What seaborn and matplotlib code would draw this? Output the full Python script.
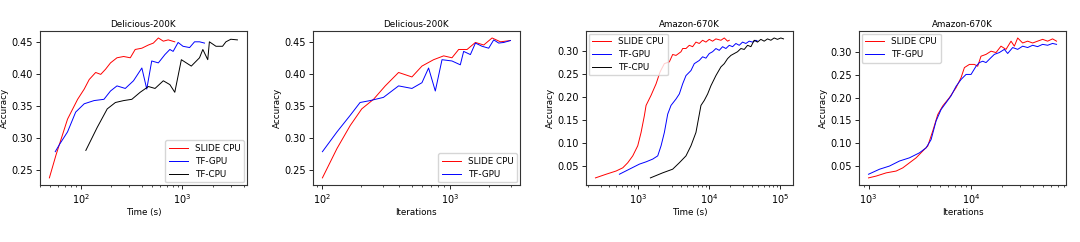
import matplotlib
matplotlib.use("Agg")
import matplotlib.pyplot as plt
import seaborn as sns

# ---------------- data ----------------
# Panel 1: Delicious-200K, accuracy vs time (s)
d_time_slide_x = [49, 57, 74, 93, 108, 121, 140, 157, 175, 196, 227, 264, 307, 343, 399, 463, 518, 580, 649, 725, 842]
d_time_slide_y = [0.237, 0.273, 0.329, 0.360, 0.376, 0.391, 0.402, 0.399, 0.407, 0.417, 0.425, 0.427, 0.425, 0.438, 0.440, 0.445, 0.448, 0.456, 0.451, 0.453, 0.450]
d_time_gpu_x = [56, 62, 74, 89, 108, 135, 169, 196, 227, 274, 330, 399, 446, 499, 580, 673, 753, 811, 908, 1014, 1178, 1318, 1475, 1652]
d_time_gpu_y = [0.278, 0.290, 0.309, 0.340, 0.353, 0.358, 0.360, 0.373, 0.381, 0.377, 0.389, 0.409, 0.376, 0.420, 0.417, 0.430, 0.438, 0.435, 0.449, 0.443, 0.441, 0.450, 0.450, 0.448]
d_time_cpu_x = [112, 145, 182, 219, 264, 318, 384, 463, 538, 649, 753, 842, 977, 1224, 1475, 1590, 1778, 1845, 2142, 2487, 2684, 3000, 3483]
d_time_cpu_y = [0.280, 0.316, 0.345, 0.355, 0.358, 0.360, 0.371, 0.380, 0.377, 0.389, 0.383, 0.371, 0.422, 0.412, 0.425, 0.438, 0.422, 0.450, 0.443, 0.443, 0.450, 0.454, 0.453]

# Panel 2: Delicious-200K, accuracy vs iterations
d_iter_slide_x = [100, 130, 165, 203, 251, 310, 394, 501, 600, 740, 887, 1030, 1162, 1352, 1571, 1825, 2120, 2466, 2952]
d_iter_slide_y = [0.237, 0.283, 0.319, 0.345, 0.360, 0.381, 0.402, 0.395, 0.412, 0.422, 0.428, 0.425, 0.438, 0.438, 0.449, 0.445, 0.456, 0.450, 0.452]
d_iter_gpu_x = [100, 130, 165, 197, 236, 300, 394, 501, 600, 676, 763, 861, 1030, 1197, 1271, 1435, 1571, 1771, 1995, 2184, 2391, 2620, 2952]
d_iter_gpu_y = [0.278, 0.309, 0.335, 0.355, 0.358, 0.363, 0.381, 0.377, 0.386, 0.409, 0.373, 0.422, 0.420, 0.414, 0.435, 0.430, 0.448, 0.443, 0.440, 0.453, 0.448, 0.449, 0.452]

# Panel 3: Amazon-670K, accuracy vs time (s)
a_time_slide_x = [254, 359, 496, 616, 723, 851, 1000, 1114, 1241, 1310, 1540, 1811, 2061, 2370, 2786, 3104, 3458, 4066, 4289, 4776, 5319, 5923, 6597, 7346, 8183, 9114, 10150, 11310, 12600, 14830, 16520, 18400, 19420]
a_time_slide_y = [0.024, 0.032, 0.039, 0.046, 0.057, 0.072, 0.094, 0.123, 0.160, 0.182, 0.204, 0.229, 0.255, 0.273, 0.277, 0.293, 0.291, 0.299, 0.306, 0.306, 0.313, 0.310, 0.320, 0.317, 0.324, 0.320, 0.326, 0.322, 0.327, 0.324, 0.329, 0.322, 0.324]
a_time_gpu_x = [552, 763, 1055, 1310, 1626, 1911, 2130, 2370, 2642, 2940, 3458, 3850, 4289, 4776, 5612, 6250, 7346, 8183, 9114, 10150, 11310, 12600, 14040, 15640, 17420, 19420, 21630, 24090, 26840, 29880, 33290, 37080, 41310, 46030, 48530]
a_time_gpu_y = [0.032, 0.043, 0.054, 0.059, 0.065, 0.072, 0.094, 0.123, 0.163, 0.182, 0.196, 0.207, 0.229, 0.247, 0.258, 0.273, 0.280, 0.288, 0.285, 0.295, 0.299, 0.306, 0.302, 0.310, 0.306, 0.313, 0.310, 0.317, 0.313, 0.320, 0.317, 0.322, 0.320, 0.324, 0.322]
a_time_cpu_x = [1507, 2244, 3104, 3850, 4776, 5612, 6597, 7762, 8650, 9640, 10730, 12600, 14830, 16520, 18400, 20480, 22800, 25400, 28310, 31540, 35150, 39170, 43590, 48530, 54050, 60260, 67140, 74820, 83200, 92700, 103300, 112700]
a_time_cpu_y = [0.024, 0.035, 0.043, 0.057, 0.072, 0.094, 0.123, 0.182, 0.193, 0.207, 0.225, 0.247, 0.266, 0.273, 0.284, 0.291, 0.295, 0.299, 0.306, 0.304, 0.313, 0.310, 0.324, 0.320, 0.326, 0.322, 0.327, 0.324, 0.329, 0.326, 0.329, 0.327]

# Panel 4: Amazon-670K, accuracy vs iterations
a_iter_slide_x = [1000, 1188, 1486, 1859, 2159, 2506, 2912, 3382, 3786, 4234, 4735, 5300, 6148, 7144, 7995, 8614, 9640, 10770, 11610, 12510, 14000, 15670, 17530, 19590, 21930, 24550, 26440, 28510, 31860, 35650, 39890, 44560, 49890, 55850, 62370, 68230]
a_iter_slide_y = [0.024, 0.028, 0.035, 0.039, 0.046, 0.057, 0.068, 0.083, 0.094, 0.127, 0.163, 0.182, 0.200, 0.222, 0.244, 0.266, 0.273, 0.273, 0.269, 0.291, 0.295, 0.302, 0.299, 0.313, 0.306, 0.324, 0.313, 0.331, 0.320, 0.324, 0.320, 0.324, 0.328, 0.324, 0.329, 0.324]
a_iter_gpu_x = [1000, 1280, 1602, 2004, 2506, 3138, 3647, 4077, 4562, 5101, 5705, 6383, 7144, 7995, 8940, 10000, 11190, 12060, 13000, 14000, 15670, 16870, 18880, 21130, 22760, 25480, 28510, 31860, 35650, 39890, 44560, 49890, 55850, 62370, 68230]
a_iter_gpu_y = [0.032, 0.043, 0.050, 0.061, 0.068, 0.079, 0.090, 0.108, 0.149, 0.174, 0.189, 0.204, 0.225, 0.240, 0.251, 0.251, 0.269, 0.277, 0.280, 0.277, 0.288, 0.295, 0.299, 0.306, 0.297, 0.310, 0.306, 0.313, 0.310, 0.315, 0.312, 0.317, 0.315, 0.319, 0.317]

titles = ["Delicious-200K", "Delicious-200K", "Amazon-670K", "Amazon-670K"]
xlabels = ["Time (s)", "Iterations", "Time (s)", "Iterations"]
ylabel = "Accuracy"
names = ["SLIDE CPU", "TF-GPU", "TF-CPU"]

# ---------------- plotting ----------------
plt.rcParams.update({
    "font.size": 6,
    "axes.titlesize": 6.3,
    "axes.labelsize": 6.3,
    "xtick.labelsize": 7,
    "ytick.labelsize": 7,
    "legend.fontsize": 6.3,
    "axes.linewidth": 0.8,
    "axes.edgecolor": "#333333",
})

colors = {"SLIDE CPU": "red", "TF-GPU": "blue", "TF-CPU": "black"}

panels = [
    [(names[0], d_time_slide_x, d_time_slide_y), (names[1], d_time_gpu_x, d_time_gpu_y), (names[2], d_time_cpu_x, d_time_cpu_y)],
    [(names[0], d_iter_slide_x, d_iter_slide_y), (names[1], d_iter_gpu_x, d_iter_gpu_y)],
    [(names[0], a_time_slide_x, a_time_slide_y), (names[1], a_time_gpu_x, a_time_gpu_y), (names[2], a_time_cpu_x, a_time_cpu_y)],
    [(names[0], a_iter_slide_x, a_iter_slide_y), (names[1], a_iter_gpu_x, a_iter_gpu_y)],
]
legend_locs = ["lower right", "lower right", "upper left", "upper left"]

fig, axes = plt.subplots(1, 4, figsize=(10.8, 2.42), dpi=100)
fig.subplots_adjust(left=0.037, right=0.987, bottom=0.236, top=0.872, wspace=0.32)

for ax, series, title, xl, loc in zip(axes, panels, titles, xlabels, legend_locs):
    for name, xs, ys in series:
        sns.lineplot(x=xs, y=ys, color=colors[name], label=name,
                     estimator=None, sort=False, linewidth=0.7, ax=ax)
    ax.set_xscale("log")
    ax.set_title(title, pad=3)
    ax.set_xlabel(xl, labelpad=2)
    ax.set_ylabel(ylabel, labelpad=2)
    ax.tick_params(length=3, width=0.6, pad=2)
    ax.tick_params(which="minor", length=1.5, width=0.5)
    leg = ax.legend(loc=loc, frameon=True, handlelength=2.2, borderpad=0.4,
                    labelspacing=0.45, borderaxespad=0.3)
    for line in leg.get_lines():
        line.set_linewidth(0.7)

axes[0].set_yticks([0.25, 0.30, 0.35, 0.40, 0.45])
axes[1].set_yticks([0.25, 0.30, 0.35, 0.40, 0.45])
axes[2].set_yticks([0.05, 0.10, 0.15, 0.20, 0.25, 0.30])
axes[3].set_yticks([0.05, 0.10, 0.15, 0.20, 0.25, 0.30])

fig.savefig("out.png", dpi=100)
